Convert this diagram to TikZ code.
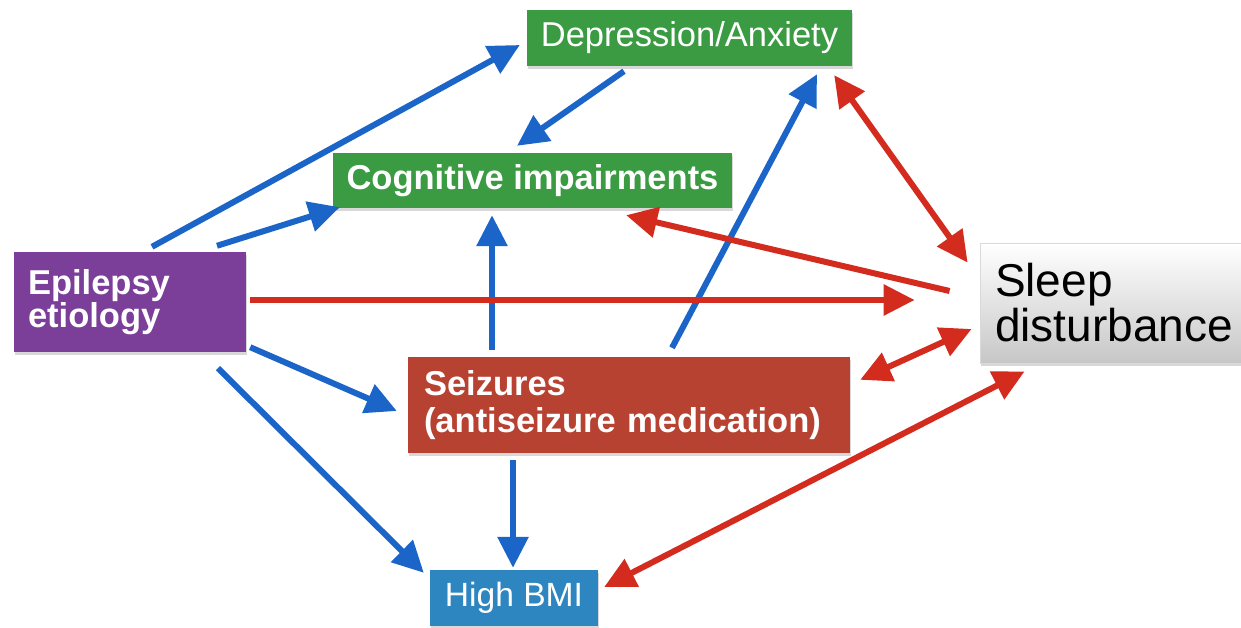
\documentclass[tikz,border=0pt]{standalone}
\usepackage{fontspec}
\setmainfont{Liberation Sans}
\usetikzlibrary{arrows.meta,calc,shadows}

\definecolor{boxgreen}{HTML}{3A9B42}
\definecolor{boxpurple}{HTML}{7B3F99}
\definecolor{boxred}{HTML}{B84232}
\definecolor{boxblue}{HTML}{2E86C1}
\definecolor{arrowblue}{HTML}{1B64C8}
\definecolor{arrowred}{HTML}{D42B1F}

\begin{document}
\begin{tikzpicture}[x=1pt,y=-1pt,
  box/.style={rectangle, inner sep=0pt, text=white,
    drop shadow={shadow xshift=1pt, shadow yshift=-3pt, opacity=0.3}},
  lbox/.style={box, align=left, inner xsep=#1},
  basefont/.style={font=\fontsize{34.5}{37}\selectfont},
  boldfont/.style={font=\fontsize{34.5}{37}\selectfont\bfseries},
  link/.style={line width=6pt},
  blue link/.style={link, draw=arrowblue, -{Triangle[length=31pt, width=30pt]}},
  red link/.style={link, draw=arrowred, -{Triangle[length=31pt, width=30pt]}},
  red both/.style={link, draw=arrowred,
    {Triangle[length=31pt, width=30pt]}-{Triangle[length=31pt, width=30pt]}}
]
\useasboundingbox (0,0) rectangle (1241,628);
\clip (0,0) rectangle (1241,628);
\fill[white] (0,0) rectangle (1241,628);

% boxes
\node[box, basefont, fill=boxgreen, minimum width=325pt, minimum height=56pt]
  (dep) at (689.5,38) {Depression/Anxiety};
\node[box, boldfont, fill=boxgreen, minimum width=399pt, minimum height=55pt]
  (cog) at (532.5,180.5) {Cognitive impairments};
\node[lbox=14pt, font=\fontsize{34.5}{33}\selectfont\bfseries, fill=boxpurple,
  text width=204pt, minimum height=100pt]
  (epi) at (130,302) {Epilepsy\\etiology};
\node[lbox=16pt, boldfont, fill=boxred, text width=410pt, minimum height=96pt]
  (seiz) at (629,405) {Seizures\\(antiseizure medication)};
\node[box, font=\fontsize{33.6}{37}\selectfont, fill=boxblue,
  minimum width=168pt, minimum height=56pt]
  (bmi) at (514,598) {High BMI};
\node[lbox=15pt, font=\fontsize{46}{45}\selectfont, text=black,
  top color=white, bottom color=black!22, draw=black!15, line width=0.8pt,
  text width=240pt, minimum height=120pt]
  (sleep) at (1115,303) {Sleep\\disturbance};

% causal links
\draw[blue link] ($(epi.north)+(22,-5)$) -- ($(dep.west)+(-7,7)$);
\draw[blue link] ($(epi.north)+(87,-6)$) -- ($(cog.south west)+(7,-1)$);
\draw[blue link] ($(dep.south)+(-65.5,5)$) -- ($(cog.north)+(-15.5,-7)$);
\draw[blue link] ($(seiz.north)+(43,-9)$) -- ($(dep.south)+(127.5,8)$);
\draw[blue link] ($(seiz.north)+(-137,-7)$) -- ($(cog.south)+(-40.5,7)$);
\draw[blue link] ($(epi.south east)+(4,-5)$) -- ($(seiz.west)+(-11,6)$);
\draw[blue link] ($(epi.south)+(88,16)$) -- ($(bmi.north west)+(-6,3)$);
\draw[blue link] ($(seiz.south)+(-116,7)$) -- ($(bmi.north)+(-1,-2)$);

\draw[red both] ($(dep.south east)+(-18,9)$) -- ($(sleep.north west)+(-12,20)$);
\draw[red link] ($(sleep.west)+(-30,-12)$) -- ($(cog.south east)+(-106,7)$);
\draw[red link] ($(epi.east)+(4,-2)$) -- ($(sleep.west)+(-65,-3)$);
\draw[red both] ($(seiz.north east)+(10,23)$) -- ($(sleep.west)+(-8,26)$);
\draw[red both] ($(bmi.east)+(6,-11)$) -- ($(sleep.south west)+(45,8)$);
\end{tikzpicture}
\end{document}
